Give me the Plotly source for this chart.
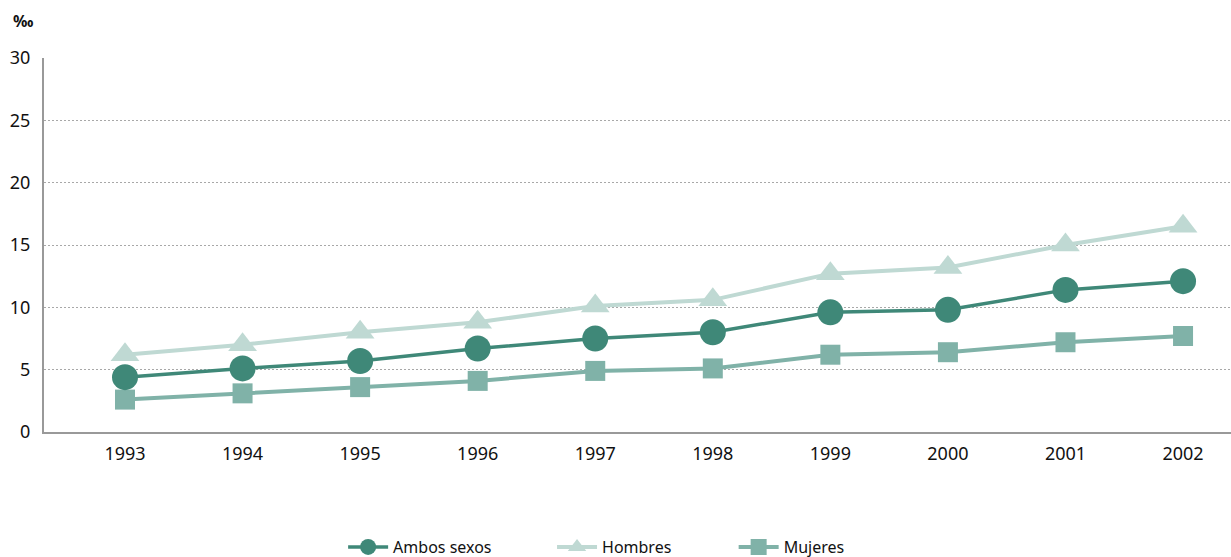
import plotly.graph_objects as go

years = [1993, 1994, 1995, 1996, 1997, 1998, 1999, 2000, 2001, 2002]
ambos_sexos = [4.4, 5.1, 5.7, 6.7, 7.5, 8.0, 9.6, 9.8, 11.4, 12.1]
hombres = [6.2, 7.0, 8.0, 8.8, 10.1, 10.6, 12.7, 13.2, 15.0, 16.5]
mujeres = [2.6, 3.1, 3.6, 4.1, 4.9, 5.1, 6.2, 6.4, 7.2, 7.7]
y_ticks = [0, 5, 10, 15, 20, 25, 30]

FONT = "Noto Sans"
TEXT = "#111111"

fig = go.Figure()

# light series first so the darker lines sit on top
fig.add_trace(go.Scatter(
    x=years, y=hombres, name="Hombres", mode="lines+markers", legend="legend2",
    line=dict(color="#bfd9d3", width=4),
    marker=dict(symbol="triangle-up", size=25, color="#bfd9d3"),
))
fig.add_trace(go.Scatter(
    x=years, y=mujeres, name="Mujeres", mode="lines+markers", legend="legend3",
    line=dict(color="#80b2a8", width=4),
    marker=dict(symbol="square", size=20, color="#80b2a8"),
))
fig.add_trace(go.Scatter(
    x=years, y=ambos_sexos, name="Ambos sexos", mode="lines+markers", legend="legend",
    line=dict(color="#3f8878", width=3.5),
    marker=dict(symbol="circle", size=26, color="#3f8878"),
))


def legend_box(x):
    return dict(
        orientation="h", x=x, xanchor="left", y=-0.262, yanchor="top",
        font=dict(family=FONT, size=16, color=TEXT),
        itemwidth=40, bgcolor="rgba(0,0,0,0)",
    )


fig.update_layout(
    width=1231, height=557,
    margin=dict(l=44, r=0, t=58, b=125, autoexpand=False),
    paper_bgcolor="white", plot_bgcolor="white",
    font=dict(family=FONT, size=17, color=TEXT),
    showlegend=True,
    legend=legend_box(0.252),
    legend2=legend_box(0.428),
    legend3=legend_box(0.581),
    xaxis=dict(
        range=[1992.311, 2002.408], tickmode="array", tickvals=years,
        ticktext=[str(y) for y in years],
        showgrid=False, zeroline=False,
        showline=True, linecolor="#999999", linewidth=2,
        ticks="", ticklabelstandoff=4, tickfont=dict(size=18), fixedrange=True,
    ),
    yaxis=dict(
        range=[0, 30], tickmode="array", tickvals=y_ticks,
        showgrid=True, gridcolor="#a8a8a8", griddash="1.5px,2.5px", gridwidth=1,
        zeroline=False, showline=True, linecolor="#999999", linewidth=2,
        ticks="", ticklabelstandoff=8, tickfont=dict(size=18), fixedrange=True,
    ),
    annotations=[dict(
        text="<b>‰</b>", xref="paper", yref="paper", x=-0.028, y=1.10,
        xanchor="left", yanchor="middle", showarrow=False,
        font=dict(family=FONT, size=16, color=TEXT),
    )],
)

fig.write_html("out.html")
